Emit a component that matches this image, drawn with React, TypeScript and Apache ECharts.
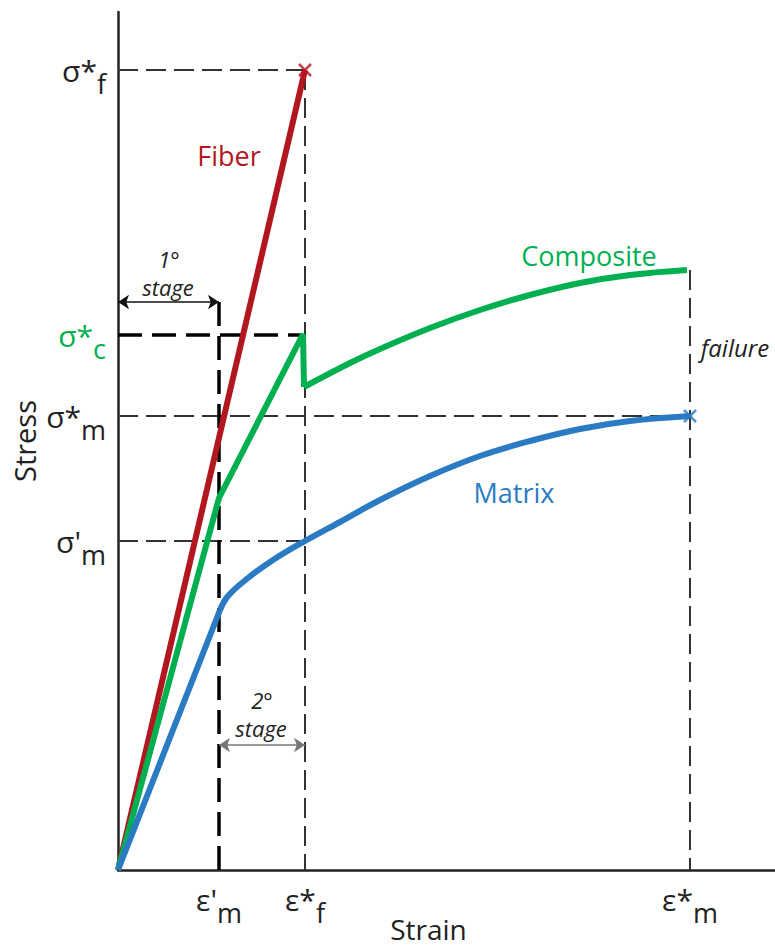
import React, { useEffect, useRef } from "react";
import * as echarts from "echarts";

// Axis ticks (arbitrary strain / stress units)
const strainTicks = [1.01, 1.87, 5.72];
const strainTickMain = ["ε'", "ε*", "ε*"];
const strainTickSub = ["m", "f", "m"];

const stressTicks = [3.29, 4.54, 5.35, 8.0];
const stressTickMain = ["σ'", "σ*", "σ*", "σ*"];
const stressTickSub = ["m", "m", "c", "f"];
const stressTickGreen = [false, false, true, false];

// Curves
const fiberStrain = [0, 1.87];
const fiberStress = [0, 8.0];

const compositeStrain = [0, 1.01, 1.85, 1.86, 2.32, 2.62, 3.12, 3.62, 4.12, 4.62, 5.12, 5.69];
const compositeStress = [0, 3.72, 5.36, 4.83, 5.07, 5.21, 5.42, 5.6, 5.75, 5.87, 5.95, 6.0];

const matrixStrain = [0, 1.02, 1.1, 1.3, 1.55, 1.87, 2.22, 2.62, 3.12, 3.62, 4.12, 4.62, 5.12, 5.72];
const matrixStress = [0, 2.6, 2.74, 2.92, 3.1, 3.29, 3.48, 3.7, 3.94, 4.14, 4.29, 4.41, 4.49, 4.54];

// Failure points
const failureStrain = [1.87, 5.72];
const failureStress = [8.0, 4.54];

const X_MAX = 6.57;
const Y_MAX = 8.58;

const RED = "#B2161E";
const GREEN = "#00B050";
const BLUE = "#2A7BC3";
const INK = "#222222";

const zip = (xs: number[], ys: number[]) => xs.map((x, i) => [x, ys[i]]);

const findIdx = (arr: number[], v: number) => arr.findIndex((a) => Math.abs(a - v) < 1e-6);

export default function App() {
  const ref = useRef<HTMLDivElement>(null);

  useEffect(() => {
    document.body.style.margin = "0";
    if (!ref.current) return;
    const chart = echarts.init(ref.current, undefined, { renderer: "svg" });

    const dashed = (pts: number[][], width: number, color: string, dash: number[]) => ({
      type: "line",
      data: pts,
      symbol: "none",
      silent: true,
      z: 1,
      lineStyle: { color, width, type: dash },
    });

    const eMp = strainTicks[0];
    const eFs = strainTicks[1];
    const eMs = strainTicks[2];
    const sMp = stressTicks[0];
    const sMs = stressTicks[1];
    const sCs = stressTicks[2];
    const sFs = stressTicks[3];
    const stage1Y = 5.68;
    const stage2Y = 1.25;

    const subRich = (color: string) => ({
      m: { fontFamily: "Open Sans", fontSize: 30, color, lineHeight: 30 },
      s: { fontFamily: "Open Sans", fontSize: 27, color, padding: [26, 0, 0, 0], lineHeight: 27 },
    });
    const ink = subRich(INK);
    const grn = subRich(GREEN);

    const txt = (x: number, y: number, text: string, font: string, fill: string) => ({
      type: "text",
      x,
      y,
      style: { text, font, fill, textAlign: "center", textVerticalAlign: "middle" },
    });

    const option: any = {
      animation: false,
      backgroundColor: "#ffffff",
      grid: { left: 118, right: 0, top: 12, bottom: 82, containLabel: false, outerBoundsMode: "none" },
      xAxis: {
        type: "value",
        min: 0,
        max: X_MAX,
        name: "Strain",
        nameLocation: "middle",
        nameGap: 45,
        nameMoveOverlap: false,
        nameTextStyle: {
          fontFamily: "Open Sans",
          fontSize: 28,
          color: INK,
          padding: [0, 36, 0, 0],
        },
        axisLine: { lineStyle: { color: INK, width: 2.5 } },
        axisTick: { show: false },
        splitLine: { show: false },
        axisLabel: {
          customValues: strainTicks,
          margin: 14,
          formatter: (v: number) => {
            const i = findIdx(strainTicks, v);
            if (i < 0) return "";
            return `{m|${strainTickMain[i]}}{s|${strainTickSub[i]}}`;
          },
          rich: { m: ink.m, s: ink.s },
        },
      },
      yAxis: {
        type: "value",
        min: 0,
        max: Y_MAX,
        name: "Stress",
        nameLocation: "middle",
        nameGap: 79,
        nameMoveOverlap: false,
        nameTextStyle: { fontFamily: "Open Sans", fontSize: 29, color: INK },
        axisLine: { lineStyle: { color: INK, width: 2.5 } },
        axisTick: { show: false },
        splitLine: { show: false },
        axisLabel: {
          customValues: stressTicks,
          margin: 12,
          formatter: (v: number) => {
            const i = findIdx(stressTicks, v);
            if (i < 0) return "";
            const g = stressTickGreen[i] ? "g" : "";
            return `{m${g}|${stressTickMain[i]}}{s${g}|${stressTickSub[i]}}`;
          },
          rich: { m: ink.m, s: ink.s, mg: grn.m, sg: grn.s },
        },
      },
      series: [
        // reference lines
        dashed([[0, sFs], [eFs, sFs]], 2, "#333", [20, 8]),
        dashed([[eFs, sFs], [eFs, 0]], 2, "#333", [20, 8]),
        dashed([[0, sMs], [eMs, sMs]], 2, "#333", [20, 8]),
        dashed([[0, sMp], [eFs, sMp]], 2, "#333", [20, 8]),
        dashed([[eMs, compositeStress[compositeStress.length - 1]], [eMs, 0]], 2, "#333", [20, 8]),
        dashed([[0, sCs], [compositeStrain[2], sCs]], 3.5, "#000", [24, 10]),
        dashed([[eMp, stage1Y], [eMp, 0]], 3.5, "#000", [24, 10]),
        // stage arrows
        {
          type: "lines",
          coordinateSystem: "cartesian2d",
          symbol: ["arrow", "arrow"],
          symbolSize: 11,
          silent: true,
          z: 3,
          data: [
            { coords: [[0, stage1Y], [eMp, stage1Y]], lineStyle: { color: "#111", width: 1.5 } },
            { coords: [[eMp, stage2Y], [eFs, stage2Y]], lineStyle: { color: "#777", width: 1.5 } },
          ],
          lineStyle: { opacity: 1, curveness: 0 },
        },
        // curves
        {
          type: "line",
          name: "Fiber",
          data: zip(fiberStrain, fiberStress),
          symbol: "none",
          z: 5,
          lineStyle: { color: RED, width: 6 },
        },
        {
          type: "line",
          name: "Composite",
          data: zip(compositeStrain.slice(0, 4), compositeStress.slice(0, 4)),
          symbol: "none",
          z: 5,
          lineStyle: { color: GREEN, width: 6, join: "miter" },
        },
        {
          type: "line",
          name: "Composite2",
          data: zip(compositeStrain.slice(3), compositeStress.slice(3)),
          symbol: "none",
          smooth: 0.4,
          z: 5,
          lineStyle: { color: GREEN, width: 6 },
        },
        {
          type: "line",
          name: "Matrix",
          data: zip(matrixStrain.slice(0, 2), matrixStress.slice(0, 2)),
          symbol: "none",
          z: 5,
          lineStyle: { color: BLUE, width: 6 },
        },
        {
          type: "line",
          name: "Matrix2",
          data: zip(matrixStrain.slice(1), matrixStress.slice(1)),
          symbol: "none",
          smooth: 0.4,
          z: 5,
          lineStyle: { color: BLUE, width: 6 },
        },
        {
          type: "scatter",
          data: zip(failureStrain, failureStress).map((p, i) => ({
            value: p,
            itemStyle: { borderColor: i === 0 ? RED : BLUE },
          })),
          symbol: "path://M0,0L10,10M0,10L10,0",
          symbolSize: 12,
          z: 6,
          itemStyle: { color: "rgba(0,0,0,0)", borderWidth: 2.5 },
        },
      ],
      graphic: [
        txt(229, 155, "Fiber", "27px 'Open Sans'", RED),
        txt(589, 255, "Composite", "27px 'Open Sans'", GREEN),
        txt(514, 492, "Matrix", "27px 'Open Sans'", BLUE),
        txt(735, 347, "failure", "italic 24px 'Open Sans'", INK),
        txt(169, 259, "1°", "italic 22px 'Open Sans'", INK),
        txt(168, 287, "stage", "italic 22px 'Open Sans'", INK),
        txt(262, 700, "2°", "italic 22px 'Open Sans'", INK),
        txt(261, 728, "stage", "italic 22px 'Open Sans'", INK),
      ],
    };

    chart.setOption(option);
    return () => chart.dispose();
  }, []);

  return <div ref={ref} style={{ width: 775, height: 952 }} />;
}
